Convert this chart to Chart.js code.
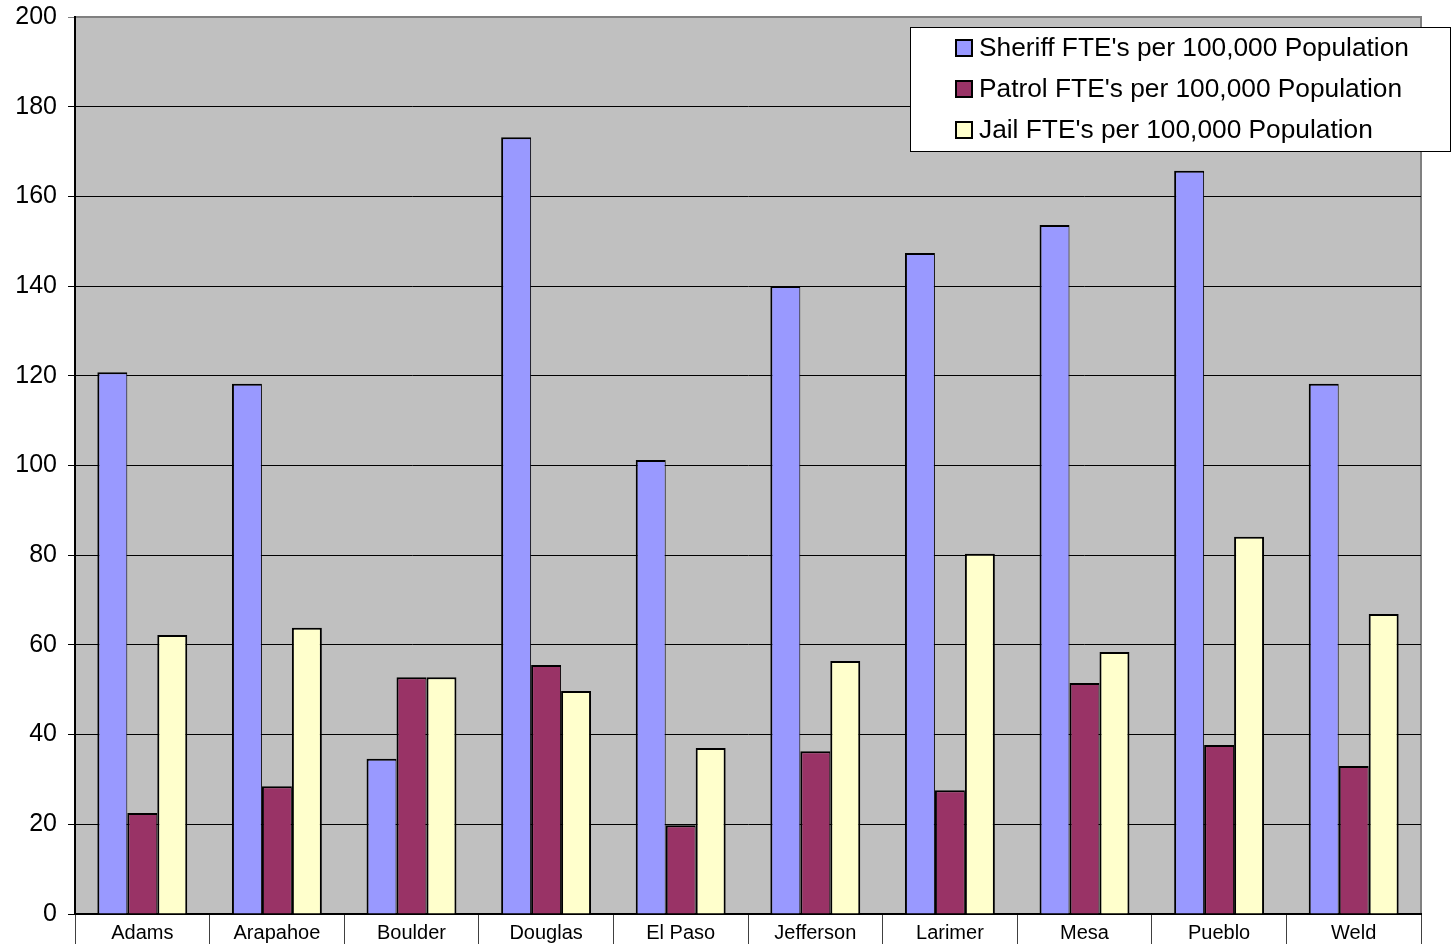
<!DOCTYPE html>
<html>
<head>
<meta charset="utf-8">
<script src="https://cdn.jsdelivr.net/npm/chart.js@4/dist/chart.umd.min.js"></script>
<style>
  html, body { margin: 0; padding: 0; background: #ffffff; }
  #wrap { width: 1453px; height: 944px; position: relative; }
</style>
</head>
<body>
<div id="wrap"><canvas id="c" width="1453" height="944"></canvas></div>
<script>
// Colorado county sheriff staffing, FTE's per 100,000 population
const counties = ['Adams', 'Arapahoe', 'Boulder', 'Douglas', 'El Paso', 'Jefferson', 'Larimer', 'Mesa', 'Pueblo', 'Weld'];
const sheriffFTE = [120.8, 118.2, 34.6, 173.2, 101.2, 140.0, 147.4, 153.6, 165.7, 118.2];
const patrolFTE  = [22.5, 28.5, 52.8, 55.5, 19.8, 36.3, 27.6, 51.5, 37.7, 33.0];
const jailFTE    = [62.2, 63.8, 52.8, 49.7, 37.0, 56.4, 80.3, 58.4, 84.1, 66.9];
const seriesNames = ["Sheriff FTE's per 100,000 Population", "Patrol FTE's per 100,000 Population", "Jail FTE's per 100,000 Population"];
const seriesColors = ['#9999FF', '#993366', '#FFFFCC'];
const yTicks = [0, 20, 40, 60, 80, 100, 120, 140, 160, 180, 200];

const FONT = "'Liberation Sans', Arial, sans-serif";

// Grey plot background with a grey frame on top and right
const plotBackground = {
  id: 'plotBackground',
  beforeDraw(chart) {
    const { ctx, chartArea: a } = chart;
    ctx.save();
    ctx.fillStyle = '#C0C0C0';
    ctx.fillRect(a.left, a.top, a.right - a.left, a.bottom - a.top);
    ctx.strokeStyle = '#808080';
    ctx.lineWidth = 2;
    ctx.beginPath();
    ctx.moveTo(a.left, a.top);
    ctx.lineTo(a.right, a.top);
    ctx.lineTo(a.right, a.bottom);
    ctx.stroke();
    ctx.restore();
  }
};

// Boxed legend in the upper right corner
const boxLegend = {
  id: 'boxLegend',
  afterDraw(chart) {
    const { ctx } = chart;
    const x = 910.5, y = 27.5, w = 540, h = 124;
    ctx.save();
    ctx.fillStyle = '#ffffff';
    ctx.fillRect(x, y, w, h);
    ctx.strokeStyle = '#000000';
    ctx.lineWidth = 1;
    ctx.strokeRect(x, y, w, h);
    ctx.font = '26.3px ' + FONT;
    ctx.textBaseline = 'middle';
    ctx.textAlign = 'left';
    const rows = [48, 89, 130];
    chart.data.datasets.forEach((ds, i) => {
      const cy = rows[i];
      ctx.fillStyle = ds.backgroundColor;
      ctx.fillRect(956, cy - 8, 16, 16);
      ctx.lineWidth = 2;
      ctx.strokeStyle = '#000';
      ctx.strokeRect(956, cy - 8, 16, 16);
      ctx.fillStyle = '#000';
      ctx.fillText(ds.label, 979, cy + 1);
    });
    ctx.restore();
  }
};

// Adjacent bars share a single dark edge
const edgeLeft = { top: 2, left: 2, right: 1, bottom: 0 };
const edgeLast = { top: 2, left: 2, right: 2, bottom: 0 };

new Chart(document.getElementById('c'), {
  type: 'bar',
  data: {
    labels: counties,
    datasets: [
      { label: seriesNames[0], data: sheriffFTE, backgroundColor: seriesColors[0], borderWidth: edgeLeft },
      { label: seriesNames[1], data: patrolFTE,  backgroundColor: seriesColors[1], borderWidth: edgeLeft },
      { label: seriesNames[2], data: jailFTE,    backgroundColor: seriesColors[2], borderWidth: edgeLast }
    ]
  },
  options: {
    responsive: false,
    animation: false,
    layout: { padding: { top: 17, right: 32, left: 0, bottom: 0 } },
    datasets: {
      bar: {
        borderColor: '#000000',
        borderSkipped: false,
        categoryPercentage: 0.668,
        barPercentage: 1.0
      }
    },
    plugins: {
      legend: { display: false },
      tooltip: { enabled: false }
    },
    scales: {
      x: {
        grid: {
          offset: true,
          drawOnChartArea: false,
          drawTicks: true,
          tickLength: 30,
          color: '#404040',
          lineWidth: 1
        },
        border: { color: '#000000', width: 2 },
        ticks: {
          color: '#000000',
          font: { family: FONT, size: 20 },
          padding: -23,
          maxRotation: 0,
          autoSkip: false
        },
        afterFit(scale) {
          scale.height = 30;
          scale.paddingLeft = 0;
          scale.paddingRight = 0;
        }
      },
      y: {
        min: 0,
        max: 200,
        afterBuildTicks(scale) { scale.ticks = yTicks.map(v => ({ value: v })); },
        grid: {
          color: ctx => (ctx.tick && ctx.tick.value === 200) ? '#808080' : '#000000',
          lineWidth: 1,
          tickLength: 7,
          drawTicks: true
        },
        border: { color: '#000000', width: 2 },
        ticks: {
          color: '#000000',
          font: { family: FONT, size: 25 },
          padding: 11
        },
        afterFit(scale) {
          scale.width = 75;
          scale.paddingTop = 0;
          scale.paddingBottom = 0;
        }
      }
    }
  },
  plugins: [plotBackground, boxLegend]
});
</script>
</body>
</html>
